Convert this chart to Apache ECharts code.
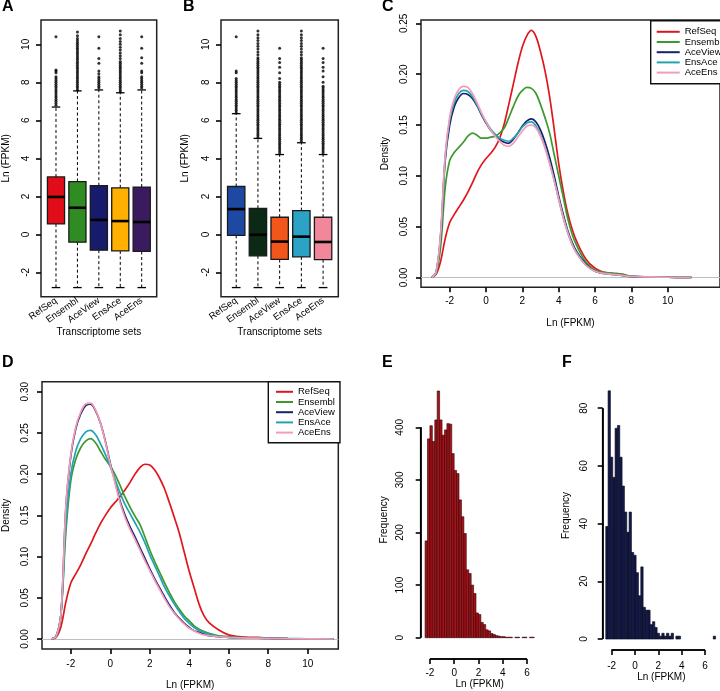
<!DOCTYPE html>
<html><head><meta charset="utf-8">
<script src="https://cdn.jsdelivr.net/npm/echarts@6/dist/echarts.min.js"></script>
<style>html,body{margin:0;padding:0;background:#fff}#c{width:720px;height:691px}</style>
</head><body><div id="c"></div>
<script>
// ---------------- DATA ----------------
const setNames = ['RefSeq','Ensembl','AceView','EnsAce','AceEns'];
const boxTicks = [-2,0,2,4,6,8,10];
// [lower whisker, Q1, median, Q3, upper whisker]
const statsA_RefSeq  = [-2.8, 0.55, 1.97, 3.02, 6.7];
const statsA_Ensembl = [-2.8, -0.41, 1.4, 2.78, 7.55];
const statsA_AceView = [-2.8, -0.83, 0.76, 2.56, 7.6];
const statsA_EnsAce  = [-2.8, -0.87, 0.7, 2.45, 7.45];
const statsA_AceEns  = [-2.8, -0.9, 0.65, 2.49, 7.6];
const statsB_RefSeq  = [-2.8, -0.05, 1.33, 2.52, 6.35];
const statsB_Ensembl = [-2.8, -1.13, -0.02, 1.37, 5.05];
const statsB_AceView = [-2.8, -1.32, -0.38, 0.9, 4.2];
const statsB_EnsAce  = [-2.8, -1.18, -0.12, 1.25, 4.82];
const statsB_AceEns  = [-2.8, -1.33, -0.4, 0.9, 4.2];
// outliers
const outA_RefSeq  = [6.8,6.9,7.0,7.1,7.2,7.3,7.4,7.5,7.6,7.7,7.8,7.9,8.0,8.1,8.2,8.3,8.5,8.6,8.65,10.4];
const outA_Ensembl = [7.6,7.7,7.8,7.9,8.0,8.1,8.2,8.3,8.4,8.5,8.6,8.7,8.8,8.9,9.0,9.1,9.2,9.3,9.4,9.5,9.6,9.7,9.8,9.9,10.0,10.1,10.2,10.3,10.45,10.65];
const outA_AceView = [7.7,7.8,7.9,8.0,8.1,8.2,8.3,8.45,8.6,9.0,9.25,9.8,10.4];
const outA_EnsAce  = [7.5,7.6,7.7,7.8,7.9,8.0,8.1,8.2,8.3,8.4,8.5,8.6,8.7,8.8,8.9,9.0,9.1,9.25,9.4,9.55,9.7,9.85,10.0,10.15,10.3,10.5,10.7];
const outA_AceEns  = [7.7,7.8,7.9,8.0,8.1,8.2,8.3,8.5,8.6,9.0,9.3,9.8,10.4];
const outB_RefSeq  = [6.4,6.5,6.6,6.7,6.8,6.9,7.0,7.1,7.2,7.3,7.4,7.5,7.6,7.7,7.8,7.9,8.0,8.1,8.2,8.5,8.6,10.4];
const outB_Ensembl = [5.1,5.2,5.3,5.4,5.5,5.6,5.7,5.8,5.9,6.0,6.1,6.2,6.3,6.4,6.5,6.6,6.7,6.8,6.9,7.0,7.1,7.2,7.3,7.4,7.5,7.6,7.7,7.8,7.9,8.0,8.1,8.2,8.3,8.4,8.5,8.6,8.7,8.8,8.9,9.0,9.1,9.2,9.3,9.45,9.6,9.75,9.9,10.05,10.2,10.35,10.5,10.7];
const outB_AceView = [4.3,4.4,4.5,4.6,4.7,4.8,4.9,5.0,5.1,5.2,5.3,5.4,5.5,5.6,5.7,5.8,5.9,6.0,6.1,6.2,6.3,6.4,6.5,6.6,6.7,6.8,6.9,7.0,7.1,7.2,7.3,7.4,7.5,7.6,7.7,7.8,7.9,8.0,8.2,8.5,8.8,9.05,9.25,9.8];
const outB_EnsAce  = [4.9,5.0,5.1,5.2,5.3,5.4,5.5,5.6,5.7,5.8,5.9,6.0,6.1,6.2,6.3,6.4,6.5,6.6,6.7,6.8,6.9,7.0,7.1,7.2,7.3,7.4,7.5,7.6,7.7,7.8,7.9,8.0,8.1,8.2,8.3,8.4,8.5,8.6,8.7,8.8,8.9,9.0,9.1,9.2,9.3,9.45,9.6,9.75,9.9,10.05,10.2,10.35,10.5,10.7];
const outB_AceEns  = [4.3,4.4,4.5,4.6,4.7,4.8,4.9,5.0,5.1,5.2,5.3,5.4,5.5,5.6,5.7,5.8,5.9,6.0,6.1,6.2,6.3,6.4,6.5,6.6,6.7,6.8,6.9,7.0,7.1,7.2,7.3,7.4,7.5,7.6,7.7,7.8,8.0,8.3,8.6,8.8,9.05,9.25,9.8];

// density curves (x grid + one array per set)
const densX = [-3.0,-2.75,-2.5,-2.25,-2.0,-1.75,-1.5,-1.25,-1.0,-0.75,-0.5,-0.25,0,0.25,0.5,0.75,1.0,1.25,1.5,1.75,2.0,2.25,2.5,2.75,3.0,3.25,3.5,3.75,4.0,4.25,4.5,4.75,5.0,5.5,6.0,6.5,7.0,7.5,8.0,9.0,10.0,11.3];
const densC_RefSeq  = [0,0.003,0.016,0.038,0.054,0.062,0.069,0.076,0.084,0.093,0.103,0.111,0.117,0.122,0.128,0.137,0.151,0.17,0.19,0.21,0.227,0.238,0.243,0.237,0.222,0.203,0.178,0.146,0.112,0.085,0.063,0.047,0.035,0.018,0.009,0.005,0.004,0.003,0.001,0.0005,0.0002,0];
const densC_Ensembl = [0,0.004,0.03,0.088,0.115,0.123,0.128,0.133,0.139,0.142,0.14,0.137,0.137,0.138,0.139,0.142,0.147,0.157,0.168,0.178,0.184,0.187,0.186,0.181,0.17,0.157,0.142,0.121,0.1,0.079,0.058,0.042,0.031,0.015,0.007,0.005,0.004,0.003,0.001,0.0005,0.0002,0];
const densC_AceView = [0,0.005,0.04,0.115,0.15,0.168,0.177,0.181,0.18,0.176,0.169,0.16,0.152,0.145,0.14,0.136,0.133,0.132,0.136,0.142,0.149,0.154,0.156,0.153,0.145,0.133,0.118,0.1,0.08,0.062,0.046,0.034,0.025,0.013,0.006,0.004,0.003,0.002,0.001,0.0005,0.0002,0];
const densC_EnsAce  = [0,0.005,0.042,0.118,0.155,0.172,0.181,0.184,0.183,0.178,0.17,0.161,0.153,0.146,0.141,0.137,0.135,0.134,0.137,0.142,0.148,0.152,0.153,0.149,0.14,0.128,0.113,0.096,0.077,0.059,0.044,0.032,0.024,0.012,0.006,0.004,0.003,0.002,0.001,0.0006,0.0004,0.0004];
const densC_AceEns  = [0,0.005,0.043,0.12,0.158,0.176,0.185,0.188,0.187,0.181,0.172,0.162,0.153,0.145,0.139,0.134,0.13,0.129,0.132,0.138,0.144,0.149,0.15,0.147,0.139,0.127,0.112,0.095,0.077,0.059,0.044,0.032,0.023,0.012,0.006,0.004,0.003,0.002,0.001,0.0005,0.0002,0];
const densD_RefSeq  = [0,0.002,0.015,0.045,0.068,0.079,0.09,0.103,0.115,0.128,0.14,0.15,0.159,0.166,0.173,0.181,0.19,0.2,0.208,0.212,0.211,0.205,0.195,0.182,0.165,0.147,0.128,0.105,0.082,0.062,0.042,0.028,0.02,0.011,0.005,0.003,0.002,0.002,0.001,0.0004,0.0002,0];
const densD_Ensembl = [0,0.003,0.03,0.13,0.192,0.218,0.232,0.24,0.243,0.238,0.228,0.218,0.21,0.199,0.186,0.172,0.16,0.149,0.139,0.124,0.108,0.094,0.081,0.068,0.056,0.045,0.036,0.028,0.022,0.016,0.012,0.009,0.007,0.004,0.003,0.002,0.0015,0.001,0.001,0.0005,0.0002,0];
const densD_AceView = [0,0.003,0.03,0.16,0.222,0.255,0.273,0.283,0.285,0.277,0.262,0.24,0.213,0.19,0.167,0.15,0.136,0.124,0.111,0.098,0.085,0.073,0.062,0.051,0.041,0.032,0.025,0.019,0.014,0.01,0.008,0.006,0.004,0.003,0.002,0.0015,0.001,0.001,0.0008,0.0004,0.0002,0];
const densD_EnsAce  = [0,0.003,0.03,0.14,0.2,0.228,0.243,0.251,0.253,0.248,0.237,0.224,0.209,0.193,0.177,0.163,0.152,0.141,0.13,0.117,0.102,0.089,0.076,0.063,0.052,0.042,0.033,0.025,0.019,0.014,0.01,0.008,0.006,0.003,0.002,0.0015,0.001,0.001,0.0008,0.0005,0.0003,0.0003];
const densD_AceEns  = [0,0.003,0.03,0.162,0.224,0.257,0.275,0.285,0.286,0.278,0.262,0.239,0.212,0.188,0.165,0.147,0.133,0.121,0.108,0.095,0.083,0.071,0.06,0.049,0.039,0.031,0.024,0.018,0.013,0.01,0.007,0.005,0.004,0.003,0.002,0.0015,0.001,0.001,0.0008,0.0004,0.0002,0];
const densXTicks = [-2,0,2,4,6,8,10];
const densCYTicks = [0,0.05,0.1,0.15,0.2,0.25];
const densDYTicks = [0,0.05,0.1,0.15,0.2,0.25,0.3];

// histograms: bin left edges (width 0.2) and counts
const histBinWidth = 0.2;
const histE_left = [-2.4,-2.2,-2.0,-1.8,-1.6,-1.4,-1.2,-1.0,-0.8,-0.6,-0.4,-0.2,0.0,0.2,0.4,0.6,0.8,1.0,1.2,1.4,1.6,1.8,2.0,2.2,2.4,2.6,2.8,3.0,3.2,3.4,3.6,3.8,4.0,4.2,4.4,4.6,4.8,5.0,5.2,5.4,5.6,5.8,6.0,6.2,6.4];
const histE_freq = [184,378,403,373,414,469,414,385,395,407,406,350,318,312,262,230,198,129,122,100,84,47,44,29,25,15,13,8,6,4,3,2,2,1,1,1,0,1,1,0,1,1,0,1,1];
const histF_left = [-2.5,-2.3,-2.1,-1.9,-1.7,-1.5,-1.3,-1.1,-0.9,-0.7,-0.5,-0.3,-0.1,0.1,0.3,0.5,0.7,0.9,1.1,1.3,1.5,1.7,1.9,2.1,2.3,2.5,2.7,2.9,3.1,3.3,3.5,3.7,3.9,4.1,4.3,4.5,4.7,4.9,5.1,5.3,5.5,5.7,5.9,6.1,6.3,6.5,6.7];
const histF_freq = [39,86,63,56,73,74,63,53,44,37,44,30,29,23,15,25,11,10,10,5,6,4,2,1,2,1,2,1,2,0,1,1,0,0,0,0,0,0,0,0,0,0,0,0,0,0,1];
const histXTicks = [-2,0,2,4,6];
const histEYTicks = [0,100,200,300,400];
const histFYTicks = [0,20,40,60,80];

// ---------------- STYLE ----------------
const FONT = 'Liberation Sans, Arial, Helvetica, sans-serif';
const colA = ['#e10d18','#2f8c22','#161c6b','#ffb000','#3b1b60'];
const colB = ['#1d49a3','#0b2914','#f2561a','#2ba2c6','#f2869b'];
const colLine = ['#e0161d','#3a9a2e','#17206b','#22a3b4','#f59bb6'];
const AXW = 1.6;

const statsA = [statsA_RefSeq,statsA_Ensembl,statsA_AceView,statsA_EnsAce,statsA_AceEns];
const statsB = [statsB_RefSeq,statsB_Ensembl,statsB_AceView,statsB_EnsAce,statsB_AceEns];
const outA = [outA_RefSeq,outA_Ensembl,outA_AceView,outA_EnsAce,outA_AceEns];
const outB = [outB_RefSeq,outB_Ensembl,outB_AceView,outB_EnsAce,outB_AceEns];
const densC = [densC_RefSeq,densC_Ensembl,densC_AceView,densC_EnsAce,densC_AceEns];
const densD = [densD_RefSeq,densD_Ensembl,densD_AceView,densD_EnsAce,densD_AceEns];

const chart = echarts.init(document.getElementById('c'), null, {renderer:'canvas'});

function xAx(g, min, max, ticks, o) {
  o = o || {};
  return {
    type:'value', gridIndex:g, min:min, max:max, position:'bottom',
    axisLine:{show:false, onZero:false}, splitLine:{show:false},
    axisTick:{show:o.noTick ? false : true, length:5, customValues:ticks, lineStyle:{color:'#000', width:AXW}},
    axisLabel:{customValues:ticks, fontFamily:FONT, fontSize:o.fs||10, color:'#000', margin:o.margin, rotate:o.rotate||0,
      formatter:o.fmt || (v => String(v))},
    name:o.name, nameLocation:'middle', nameGap:o.nameGap,
    nameTextStyle:{fontFamily:FONT, fontSize:10, color:'#000'}
  };
}
function yAx(g, min, max, ticks, o) {
  o = o || {};
  return {
    type:'value', gridIndex:g, min:min, max:max, position:'left',
    axisLine:{show:false, onZero:false}, splitLine:{show:false},
    axisTick:{show:true, length:5, customValues:ticks, lineStyle:{color:'#000', width:AXW}},
    axisLabel:{customValues:ticks, fontFamily:FONT, fontSize:10, color:'#000', margin:o.margin, rotate:90,
      formatter:o.fmt || (v => String(v))},
    name:o.name, nameLocation:'middle', nameGap:o.nameGap, nameRotate:90,
    nameTextStyle:{fontFamily:FONT, fontSize:10, color:'#000'}
  };
}

function boxSeries(g, stats, colors) {
  return {
    type:'custom', xAxisIndex:g, yAxisIndex:g, silent:true, clip:false, z:3,
    data: stats.map((s,i) => [i+1].concat(s)),
    encode:{x:0, y:[1,2,3,4,5]},
    renderItem:(params, api) => {
      const x = api.value(0);
      const lo = api.coord([x, api.value(1)]);
      const q1 = api.coord([x, api.value(2)]);
      const md = api.coord([x, api.value(3)]);
      const q3 = api.coord([x, api.value(4)]);
      const hi = api.coord([x, api.value(5)]);
      const half = api.size([0.4, 0])[0];
      const sh = half / 2;
      const cx = lo[0];
      const dash = {stroke:'#000', lineWidth:1, lineDash:[3,2.5]};
      const solid = {stroke:'#000', lineWidth:1.3};
      return {type:'group', children:[
        {type:'line', shape:{x1:cx,y1:q1[1],x2:cx,y2:lo[1]}, style:dash},
        {type:'line', shape:{x1:cx,y1:q3[1],x2:cx,y2:hi[1]}, style:dash},
        {type:'line', shape:{x1:cx-sh,y1:lo[1],x2:cx+sh,y2:lo[1]}, style:solid},
        {type:'line', shape:{x1:cx-sh,y1:hi[1],x2:cx+sh,y2:hi[1]}, style:solid},
        {type:'rect', shape:{x:cx-half, y:q3[1], width:2*half, height:q1[1]-q3[1]},
          style:{fill:colors[params.dataIndex], stroke:'#1a1a1a', lineWidth:1.3}},
        {type:'line', shape:{x1:cx-half,y1:md[1],x2:cx+half,y2:md[1]}, style:{stroke:'#000', lineWidth:2.6}}
      ]};
    }
  };
}
function outlierSeries(g, outs) {
  const d = [];
  outs.forEach((arr, i) => arr.forEach(v => d.push([i+1, v])));
  return {type:'scatter', xAxisIndex:g, yAxisIndex:g, silent:true, z:4, data:d,
    symbol:'circle', symbolSize:3, itemStyle:{color:'#000'}};
}
function densSeries(g, ys, i, withZero) {
  const s = {
    type:'line', name:setNames[i], xAxisIndex:g, yAxisIndex:g, silent:true,
    data: densX.map((x,k) => [x, ys[k]]), smooth:0.35, showSymbol:false, symbol:'none',
    lineStyle:{color:colLine[i], width:1.7}, itemStyle:{color:colLine[i]}, z:3+i
  };
  if (withZero) s.markLine = {silent:true, symbol:'none', label:{show:false}, z:2,
    lineStyle:{color:'#bdbdbd', width:1, type:'solid'}, data:[{yAxis:0}]};
  return s;
}
// histogram bars + R-style axis lines (spanning first..last tick) as markLines
function histSeries(g, left, freq, fill, stroke, r, xt, yt) {
  return {
    type:'custom', xAxisIndex:g, yAxisIndex:g, silent:true, clip:false, z:3,
    data: left.map((l,k) => [l, l + histBinWidth, freq[k]]),
    encode:{x:[0,1], y:2},
    renderItem:(params, api) => {
      if (api.value(2) <= 0) return null;
      const p0 = api.coord([api.value(0), api.value(2)]);
      const p1 = api.coord([api.value(1), 0]);
      return {type:'rect', shape:{x:p0[0], y:p0[1], width:p1[0]-p0[0], height:p1[1]-p0[1]},
        style:{fill:fill, stroke:stroke, lineWidth:0.6}};
    },
    markLine:{silent:true, symbol:'none', label:{show:false}, z:6,
      lineStyle:{color:'#000', width:AXW, type:'solid'},
      data:[
        [{coord:[r.xmin, yt[0]]}, {coord:[r.xmin, yt[yt.length-1]]}],
        [{coord:[xt[0], r.ymin]}, {coord:[xt[xt.length-1], r.ymin]}]
      ]}
  };
}
function axisLinesSeries(g, segs) {
  return {
    type:'custom', xAxisIndex:g, yAxisIndex:g, silent:true, clip:false, z:6,
    data: segs, encode:{x:[0,2], y:[1,3]},
    renderItem:(params, api) => {
      const a = api.coord([api.value(0), api.value(1)]);
      const b = api.coord([api.value(2), api.value(3)]);
      return {type:'line', shape:{x1:a[0], y1:a[1], x2:b[0], y2:b[1]}, style:{stroke:'#000', lineWidth:AXW}};
    }
  };
}

// axis ranges
const rA = {xmin:0.3, xmax:5.7, ymin:-3.28, ymax:11.28};
const rC = {xmin:-3.58, xmax:12.88, ymin:-0.0097, ymax:0.2533};
const rD = {xmin:-3.46, xmax:11.55, ymin:-0.0121, ymax:0.3121};
const rE = {xmin:-2.76, xmax:6.96, ymin:-40.5, ymax:488.8};
const rF = {xmin:-2.76, xmax:7.28, ymin:-3.8, ymax:89.4};
const catFmt = v => setNames[Math.round(v)-1];
const f2 = v => v.toFixed(2);

const frame = {show:true, borderColor:'#222', borderWidth:1.5, backgroundColor:'transparent'};

const legendBase = {
  orient:'vertical', icon:'rect', itemHeight:2, itemGap:0, data:setNames,
  borderColor:'#111', borderWidth:1.4, backgroundColor:'#fff', borderRadius:0,
  textStyle:{fontFamily:FONT, fontSize:9.5, color:'#000', lineHeight:10.2}, selectedMode:false
};

const option = {
  animation:false,
  backgroundColor:'#fff',
  grid:[
    Object.assign({left:39.3, top:20, width:117.4, height:276.7}, frame),
    Object.assign({left:221, top:20, width:117.3, height:276.7}, frame),
    Object.assign({left:421, top:20, width:323, height:267.3}, frame),
    Object.assign({left:39.3, top:381.7, width:299, height:267.6}, frame),
    {left:420.7, top:380.6, width:117.9, height:278.4, show:false},
    {left:602.7, top:381, width:117.3, height:269, show:false}
  ],
  xAxis:[
    xAx(0, rA.xmin, rA.xmax, [1,2,3,4,5], {noTick:true, rotate:35, fs:9.5, margin:3, fmt:catFmt, name:'Transcriptome sets', nameGap:20}),
    xAx(1, rA.xmin, rA.xmax, [1,2,3,4,5], {noTick:true, rotate:35, fs:9.5, margin:3, fmt:catFmt, name:'Transcriptome sets', nameGap:20}),
    xAx(2, rC.xmin, rC.xmax, densXTicks, {margin:9, name:'Ln (FPKM)', nameGap:31}),
    xAx(3, rD.xmin, rD.xmax, densXTicks, {margin:10, name:'Ln (FPKM)', nameGap:31}),
    xAx(4, rE.xmin, rE.xmax, histXTicks, {margin:9, name:'Ln (FPKM)', nameGap:18}),
    xAx(5, rF.xmin, rF.xmax, histXTicks, {margin:11, name:'Ln (FPKM)', nameGap:20})
  ],
  yAxis:[
    yAx(0, rA.ymin, rA.ymax, boxTicks, {margin:10, name:'Ln (FPKM)', nameGap:30}),
    yAx(1, rA.ymin, rA.ymax, boxTicks, {margin:10, name:'Ln (FPKM)', nameGap:31}),
    yAx(2, rC.ymin, rC.ymax, densCYTicks, {margin:12, fmt:f2, name:'Density', nameGap:31}),
    yAx(3, rD.ymin, rD.ymax, densDYTicks, {margin:12, fmt:f2, name:'Density', nameGap:31}),
    yAx(4, rE.ymin, rE.ymax, histEYTicks, {margin:15, name:'Frequency', nameGap:31}),
    yAx(5, rF.ymin, rF.ymax, histFYTicks, {margin:13, name:'Frequency', nameGap:31})
  ],
  legend:[
    Object.assign({left:650.7, top:20.7, padding:[6,6,6,6], itemWidth:23}, legendBase),
    Object.assign({left:268.3, top:381.7, padding:[5,5,5,7.7], itemWidth:17}, legendBase)
  ],
  graphic:[
    {type:'text', left:2, top:-1, style:{text:'A', font:'bold 16px '+FONT, fill:'#000'}},
    {type:'text', left:183, top:-1, style:{text:'B', font:'bold 16px '+FONT, fill:'#000'}},
    {type:'text', left:382, top:-1, style:{text:'C', font:'bold 16px '+FONT, fill:'#000'}},
    {type:'text', left:2, top:355, style:{text:'D', font:'bold 16px '+FONT, fill:'#000'}},
    {type:'text', left:382, top:355, style:{text:'E', font:'bold 16px '+FONT, fill:'#000'}},
    {type:'text', left:562, top:355, style:{text:'F', font:'bold 16px '+FONT, fill:'#000'}}
  ],
  series:[
    histSeries(4, histE_left, histE_freq, '#a8121a', '#2a0000', rE, histXTicks, histEYTicks),
    histSeries(5, histF_left, histF_freq, '#141a4a', '#05061a', rF, histXTicks, histFYTicks),
    axisLinesSeries(4, [
      [rE.xmin, histEYTicks[0], rE.xmin, histEYTicks[histEYTicks.length-1]],
      [histXTicks[0], rE.ymin, histXTicks[histXTicks.length-1], rE.ymin]
    ]),
    axisLinesSeries(5, [
      [rF.xmin, histFYTicks[0], rF.xmin, histFYTicks[histFYTicks.length-1]],
      [histXTicks[0], rF.ymin, histXTicks[histXTicks.length-1], rF.ymin]
    ]),
    boxSeries(0, statsA, colA), outlierSeries(0, outA),
    boxSeries(1, statsB, colB), outlierSeries(1, outB),
    densSeries(2, densC[0], 0, true), densSeries(2, densC[1], 1), densSeries(2, densC[2], 2), densSeries(2, densC[3], 3), densSeries(2, densC[4], 4),
    densSeries(3, densD[0], 0, true), densSeries(3, densD[1], 1), densSeries(3, densD[2], 2), densSeries(3, densD[3], 3), densSeries(3, densD[4], 4)
  ]
};
chart.setOption(option);
</script></body></html>
